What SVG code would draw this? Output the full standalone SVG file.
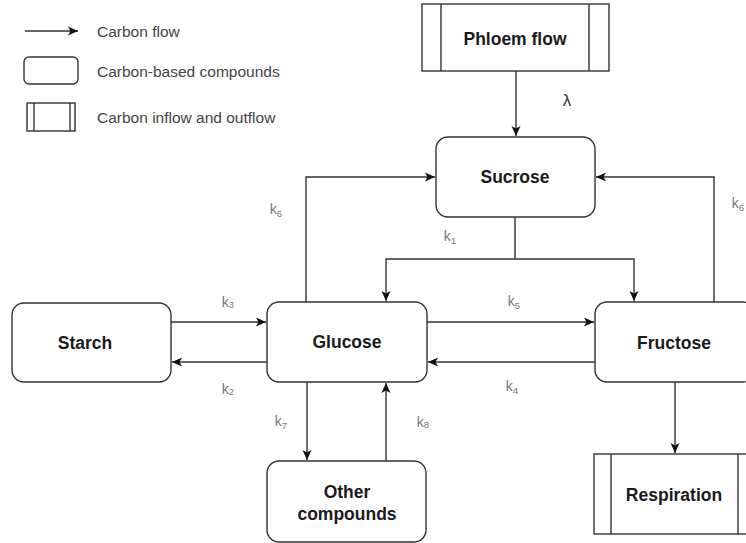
<svg xmlns="http://www.w3.org/2000/svg" width="746" height="543" viewBox="0 0 746 543">
<defs>
<marker id="ah" viewBox="0 0 10 10" refX="10" refY="5" markerWidth="10" markerHeight="10" markerUnits="userSpaceOnUse" orient="auto">
<path d="M0,0.5 L10,5 L0,9.5 L2.5,5 Z" fill="#111"/>
</marker>
<style>
.box{fill:#fff;stroke:#333;stroke-width:1.4}
.ln{fill:none;stroke:#333;stroke-width:1.4}
.c{fill:none;stroke:#333;stroke-width:1.4;marker-end:url(#ah)}
.t{font-family:"Liberation Sans",Arial,sans-serif;font-weight:bold;font-size:17.5px;fill:#1a1a1a;text-anchor:middle;dominant-baseline:central}
.lg{font-family:"Liberation Sans",Arial,sans-serif;font-size:15.5px;fill:#444;dominant-baseline:central}
.k{font-family:"Liberation Sans",Arial,sans-serif;font-size:14px;fill:#777;text-anchor:middle}
.sub{font-size:9.5px}
</style>
</defs>
<rect width="746" height="543" fill="#fff"/>

<g id="legend">
<line x1="25" y1="31" x2="78" y2="31" class="c"/>
<text x="97" y="31" class="lg">Carbon flow</text>
<rect x="24" y="57" width="54" height="27" rx="5" class="box"/>
<text x="97" y="71" class="lg">Carbon-based compounds</text>
<rect x="27" y="103" width="48" height="28" class="box"/>
<line x1="34" y1="103" x2="34" y2="131" class="ln"/>
<line x1="70" y1="103" x2="70" y2="131" class="ln"/>
<text x="97" y="117" class="lg">Carbon inflow and outflow</text>
</g>

<g id="connectors">
<line x1="516" y1="71" x2="516" y2="136" class="c"/>
<polyline points="306,302 306,177 435,177" class="c"/>
<polyline points="714,302 714,177 596,177" class="c"/>
<polyline points="515,217 515,259 386,259 386,301" class="c"/>
<polyline points="515,259 634,259 634,301" class="c"/>
<line x1="171" y1="322" x2="266" y2="322" class="c"/>
<line x1="267" y1="362" x2="172" y2="362" class="c"/>
<line x1="427" y1="322" x2="594" y2="322" class="c"/>
<line x1="595" y1="362" x2="428" y2="362" class="c"/>
<line x1="675" y1="382" x2="675" y2="453" class="c"/>
<line x1="307" y1="382" x2="307" y2="460" class="c"/>
<line x1="386" y1="461" x2="386" y2="383" class="c"/>
<text x="567" y="106" font-family="Liberation Sans,Arial,sans-serif" font-size="17" fill="#333" text-anchor="middle">λ</text>
<text x="276" y="214" class="k">k<tspan class="sub" dy="3">6</tspan></text>
<text x="738" y="208" class="k">k<tspan class="sub" dy="3">6</tspan></text>
<text x="450" y="241" class="k">k<tspan class="sub" dy="3">1</tspan></text>
<text x="228" y="307" class="k">k<tspan class="sub" dy="1">3</tspan></text>
<text x="228" y="394" class="k">k<tspan class="sub" dy="1">2</tspan></text>
<text x="514" y="306" class="k">k<tspan class="sub" dy="3">5</tspan></text>
<text x="512" y="391" class="k">k<tspan class="sub" dy="3">4</tspan></text>
<text x="281" y="426" class="k">k<tspan class="sub" dy="3">7</tspan></text>
<text x="423" y="427" class="k">k<tspan class="sub" dy="1">8</tspan></text>
</g>

<g id="phloem">
<rect x="422" y="4" width="187" height="67" class="box"/>
<line x1="441" y1="4" x2="441" y2="71" class="ln"/>
<line x1="589" y1="4" x2="589" y2="71" class="ln"/>
<text x="515" y="39" class="t">Phloem flow</text>
</g>
<g id="sucrose">
<rect x="436" y="137" width="159" height="80" rx="12" class="box"/>
<text x="515" y="177" class="t">Sucrose</text>
</g>
<g id="starch">
<rect x="12" y="303" width="159" height="79" rx="12" class="box"/>
<text x="85" y="343" class="t">Starch</text>
</g>
<g id="glucose">
<rect x="267" y="302" width="160" height="80" rx="12" class="box"/>
<text x="347" y="342" class="t">Glucose</text>
</g>
<g id="fructose">
<rect x="595" y="302" width="160" height="80" rx="12" class="box"/>
<text x="674" y="343" class="t">Fructose</text>
</g>
<g id="respiration">
<rect x="594" y="454" width="162" height="80" class="box"/>
<line x1="611" y1="454" x2="611" y2="534" class="ln"/>
<line x1="738" y1="454" x2="738" y2="534" class="ln"/>
<text x="674" y="495" class="t">Respiration</text>
</g>
<g id="other">
<rect x="267" y="461" width="159" height="81" rx="12" class="box"/>
<text x="347" y="492" class="t">Other</text>
<text x="347" y="514" class="t">compounds</text>
</g>
</svg>
